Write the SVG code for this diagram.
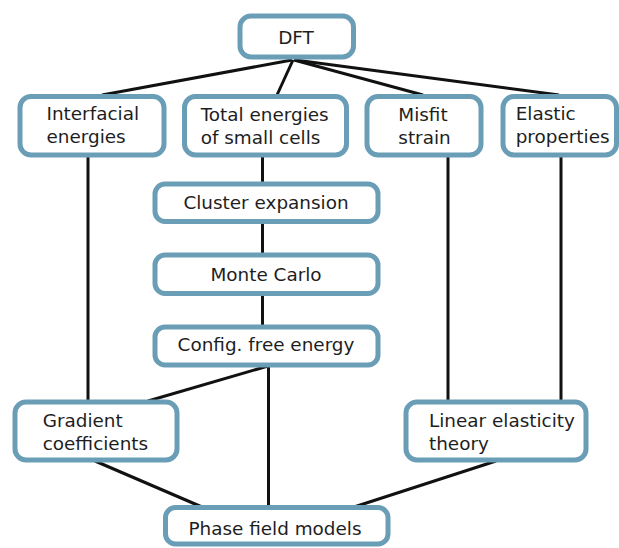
<svg xmlns="http://www.w3.org/2000/svg" width="619" height="548" viewBox="0 0 619 548">
<style>
.box{fill:#ffffff;stroke:#6a9db6;stroke-width:5}
.lbl{font-family:"DejaVu Sans",sans-serif;font-size:18.4px;fill:#1e1e1e}
.c{text-anchor:middle}
.edge{stroke:#111111;stroke-width:3;fill:none}
</style>
<rect width="619" height="548" fill="#ffffff"/>
<g id="connectors">
<line class="edge" x1="292" y1="60" x2="102" y2="95"/>
<line class="edge" x1="293" y1="60" x2="277" y2="95"/>
<line class="edge" x1="294" y1="60" x2="423" y2="95"/>
<line class="edge" x1="295" y1="60" x2="559" y2="95"/>
<line class="edge" x1="88" y1="156" x2="88" y2="401"/>
<line class="edge" x1="262.5" y1="156" x2="262.5" y2="184"/>
<line class="edge" x1="262.5" y1="222" x2="262.5" y2="255"/>
<line class="edge" x1="262.5" y1="293" x2="262.5" y2="327"/>
<line class="edge" x1="448" y1="156" x2="448" y2="401"/>
<line class="edge" x1="561" y1="156" x2="561" y2="401"/>
<line class="edge" x1="268" y1="366" x2="148" y2="401"/>
<line class="edge" x1="268.5" y1="366" x2="268.5" y2="507"/>
<line class="edge" x1="95" y1="461" x2="202" y2="507"/>
<line class="edge" x1="496" y1="461" x2="354" y2="507"/>
</g>
<g id="dft">
<rect class="box" x="240" y="16" width="113.5" height="41" rx="11"/>
<text class="lbl c" x="296" y="43.5">DFT</text>
</g>
<g id="interfacial">
<rect class="box" x="20" y="96.5" width="144" height="58.5" rx="11"/>
<text class="lbl" x="46.5" y="120">Interfacial</text>
<text class="lbl" x="46.5" y="143">energies</text>
</g>
<g id="total">
<rect class="box" x="184.5" y="96.5" width="162" height="58.5" rx="11"/>
<text class="lbl" x="200.7" y="120.5">Total energies</text>
<text class="lbl" x="200.7" y="143.5">of small cells</text>
</g>
<g id="misfit">
<rect class="box" x="367" y="96.5" width="114" height="58.5" rx="11"/>
<text class="lbl" x="398.3" y="120.5">Misfit</text>
<text class="lbl" x="398.3" y="143.5">strain</text>
</g>
<g id="elastic">
<rect class="box" x="503" y="96.5" width="113.5" height="58.5" rx="11"/>
<text class="lbl" x="515.7" y="119.5">Elastic</text>
<text class="lbl" x="515.7" y="142.5">properties</text>
</g>
<g id="cluster">
<rect class="box" x="155" y="184" width="223" height="37.5" rx="10"/>
<text class="lbl c" x="266" y="208.5">Cluster expansion</text>
</g>
<g id="montecarlo">
<rect class="box" x="155" y="255" width="223" height="38.5" rx="10"/>
<text class="lbl c" x="266" y="281">Monte Carlo</text>
</g>
<g id="config">
<rect class="box" x="155" y="327" width="223" height="38" rx="10"/>
<text class="lbl c" x="266" y="351">Config. free energy</text>
</g>
<g id="gradient">
<rect class="box" x="15" y="402" width="162" height="58" rx="11"/>
<text class="lbl" x="42.7" y="426.7">Gradient</text>
<text class="lbl" x="42.7" y="450">coefficients</text>
</g>
<g id="linear">
<rect class="box" x="406" y="402" width="180" height="58" rx="11"/>
<text class="lbl" x="429" y="426.7">Linear elasticity</text>
<text class="lbl" x="429" y="450">theory</text>
</g>
<g id="phase">
<rect class="box" x="165.5" y="507.5" width="222.5" height="36.5" rx="10"/>
<text class="lbl c" x="275" y="535">Phase field models</text>
</g>
</svg>
